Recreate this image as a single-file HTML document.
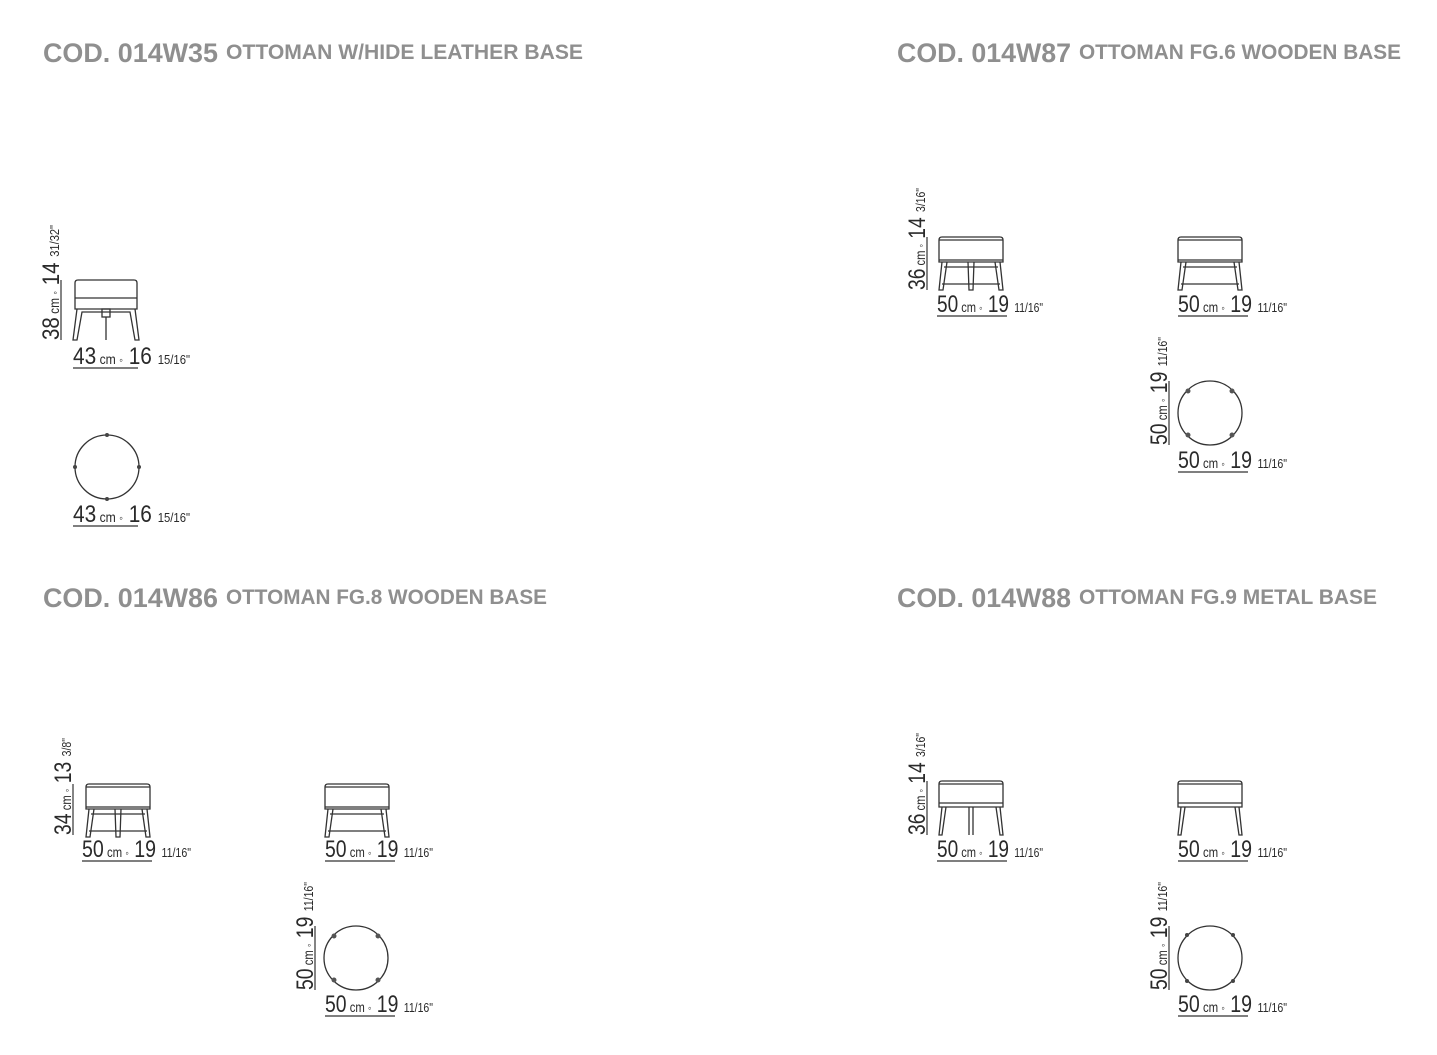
<!DOCTYPE html>
<html><head><meta charset="utf-8"><style>
html,body{margin:0;padding:0;background:#fff}
svg{display:block}
.t1{font-family:"Liberation Sans",sans-serif;font-weight:bold;fill:#8f8f8f}
.d{font-family:"Liberation Sans Narrow","Liberation Sans",sans-serif;fill:#2a2a2a}
.l{stroke:#333;fill:none;stroke-width:1.3}
.u{stroke:#333;stroke-width:1.2}
</style></head><body>
<svg width="1437" height="1055" viewBox="0 0 1437 1055" xmlns="http://www.w3.org/2000/svg">
<defs>
<g id="stool">
 <path class="l" d="M1,3 Q1,0 4,0 L62,0 Q65,0 65,3 L65,25 L1,25 Z"/>
 <line class="l" x1="1" y1="3" x2="65" y2="3"/>
 <line class="l" x1="1" y1="23" x2="65" y2="23"/>
 <path class="l" d="M4,25 L1,53 L5,53 L9,25"/>
 <path class="l" d="M62,25 L65,53 L61,53 L57,25"/>
 <line class="l" x1="6" y1="30" x2="60" y2="30"/>
 <line class="l" x1="4" y1="47" x2="62" y2="47"/>
</g>
<g id="stoolA">
 <use href="#stool"/>
 <path class="l" d="M30,25 L31,53 L35,53 L36,25"/>
</g>
<g id="circ">
 <circle class="l" cx="0" cy="0" r="32"/>
 <circle cx="-22" cy="-22" r="2.5" fill="#555"/>
 <circle cx="22" cy="-22" r="2.5" fill="#555"/>
 <circle cx="-22" cy="22" r="2.5" fill="#555"/>
 <circle cx="22" cy="22" r="2.5" fill="#555"/>
</g>
</defs>

<!-- titles -->
<text class="t1" x="43" y="62" font-size="27" textLength="175" lengthAdjust="spacingAndGlyphs">COD. 014W35</text>
<text class="t1" x="226" y="59" font-size="21" textLength="357" lengthAdjust="spacingAndGlyphs">OTTOMAN W/HIDE LEATHER BASE</text>
<text class="t1" x="897" y="62" font-size="27" textLength="174" lengthAdjust="spacingAndGlyphs">COD. 014W87</text>
<text class="t1" x="1079" y="59" font-size="21" textLength="322" lengthAdjust="spacingAndGlyphs">OTTOMAN FG.6 WOODEN BASE</text>
<text class="t1" x="43" y="607" font-size="27" textLength="175" lengthAdjust="spacingAndGlyphs">COD. 014W86</text>
<text class="t1" x="226" y="604" font-size="21" textLength="321" lengthAdjust="spacingAndGlyphs">OTTOMAN FG.8 WOODEN BASE</text>
<text class="t1" x="897" y="607" font-size="27" textLength="174" lengthAdjust="spacingAndGlyphs">COD. 014W88</text>
<text class="t1" x="1079" y="604" font-size="21" textLength="298" lengthAdjust="spacingAndGlyphs">OTTOMAN FG.9 METAL BASE</text>

<!-- Panel 1 -->
<path class="l" d="M75,283 Q75,280 78,280 L134,280 Q137,280 137,283 L137,309 L75,309 Z"/>
<line class="l" x1="75" y1="298" x2="137" y2="298"/>
<path class="l" d="M77,309 L73,340 L77,340 L82,312 L130,312 L135,340 L139,340 L135,309"/>
<rect class="l" x="102" y="309" width="8" height="8"/>
<line class="l" x1="106" y1="317" x2="106" y2="340"/>
<text class="d" x="73" y="364" textLength="117" lengthAdjust="spacingAndGlyphs"><tspan font-size="24">43</tspan><tspan font-size="14"> cm </tspan><tspan font-size="12">◦</tspan><tspan font-size="24"> 16 </tspan><tspan font-size="13">15/16"</tspan></text>
<line class="u" x1="73" y1="368" x2="138" y2="368"/>
<text class="d" transform="translate(59,340) rotate(-90)" textLength="115" lengthAdjust="spacingAndGlyphs"><tspan font-size="24">38</tspan><tspan font-size="14"> cm </tspan><tspan font-size="12">◦</tspan><tspan font-size="24"> 14 </tspan><tspan font-size="13">31/32"</tspan></text>
<line class="u" x1="61" y1="280" x2="61" y2="340"/>
<circle class="l" cx="107" cy="467" r="32"/>
<circle cx="107" cy="435" r="2" fill="#444"/><circle cx="107" cy="499" r="2" fill="#444"/>
<circle cx="75" cy="467" r="2" fill="#444"/><circle cx="139" cy="467" r="2" fill="#444"/>
<text class="d" x="73" y="522" textLength="117" lengthAdjust="spacingAndGlyphs"><tspan font-size="24">43</tspan><tspan font-size="14"> cm </tspan><tspan font-size="12">◦</tspan><tspan font-size="24"> 16 </tspan><tspan font-size="13">15/16"</tspan></text>
<line class="u" x1="73" y1="526" x2="138" y2="526"/>

<!-- Panel 2 -->
<use href="#stoolA" x="938" y="237"/>
<text class="d" x="937" y="312" textLength="106" lengthAdjust="spacingAndGlyphs"><tspan font-size="24">50</tspan><tspan font-size="14"> cm </tspan><tspan font-size="12">◦</tspan><tspan font-size="24"> 19 </tspan><tspan font-size="13">11/16"</tspan></text>
<line class="u" x1="937" y1="316" x2="1007" y2="316"/>
<text class="d" transform="translate(925,290) rotate(-90)" textLength="102" lengthAdjust="spacingAndGlyphs"><tspan font-size="24">36</tspan><tspan font-size="14"> cm </tspan><tspan font-size="12">◦</tspan><tspan font-size="24"> 14 </tspan><tspan font-size="13">3/16"</tspan></text>
<line class="u" x1="927" y1="237" x2="927" y2="290"/>
<use href="#stool" x="1177" y="237"/>
<text class="d" x="1178" y="312" textLength="109" lengthAdjust="spacingAndGlyphs"><tspan font-size="24">50</tspan><tspan font-size="14"> cm </tspan><tspan font-size="12">◦</tspan><tspan font-size="24"> 19 </tspan><tspan font-size="13">11/16"</tspan></text>
<line class="u" x1="1178" y1="316" x2="1248" y2="316"/>
<use href="#circ" x="1210" y="413"/>
<text class="d" transform="translate(1167,445) rotate(-90)" textLength="108" lengthAdjust="spacingAndGlyphs"><tspan font-size="24">50</tspan><tspan font-size="14"> cm </tspan><tspan font-size="12">◦</tspan><tspan font-size="24"> 19 </tspan><tspan font-size="13">11/16"</tspan></text>
<line class="u" x1="1169" y1="381" x2="1169" y2="445"/>
<text class="d" x="1178" y="468" textLength="109" lengthAdjust="spacingAndGlyphs"><tspan font-size="24">50</tspan><tspan font-size="14"> cm </tspan><tspan font-size="12">◦</tspan><tspan font-size="24"> 19 </tspan><tspan font-size="13">11/16"</tspan></text>
<line class="u" x1="1178" y1="472" x2="1248" y2="472"/>

<!-- Panel 3 -->
<use href="#stoolA" x="85" y="784"/>
<text class="d" x="82" y="857" textLength="109" lengthAdjust="spacingAndGlyphs"><tspan font-size="24">50</tspan><tspan font-size="14"> cm </tspan><tspan font-size="12">◦</tspan><tspan font-size="24"> 19 </tspan><tspan font-size="13">11/16"</tspan></text>
<line class="u" x1="82" y1="861" x2="152" y2="861"/>
<text class="d" transform="translate(71,835) rotate(-90)" textLength="97" lengthAdjust="spacingAndGlyphs"><tspan font-size="24">34</tspan><tspan font-size="14"> cm </tspan><tspan font-size="12">◦</tspan><tspan font-size="24"> 13 </tspan><tspan font-size="13">3/8"</tspan></text>
<line class="u" x1="73" y1="784" x2="73" y2="835"/>
<use href="#stool" x="324" y="784"/>
<text class="d" x="325" y="857" textLength="108" lengthAdjust="spacingAndGlyphs"><tspan font-size="24">50</tspan><tspan font-size="14"> cm </tspan><tspan font-size="12">◦</tspan><tspan font-size="24"> 19 </tspan><tspan font-size="13">11/16"</tspan></text>
<line class="u" x1="325" y1="861" x2="395" y2="861"/>
<use href="#circ" x="356" y="958"/>
<text class="d" transform="translate(313,990) rotate(-90)" textLength="108" lengthAdjust="spacingAndGlyphs"><tspan font-size="24">50</tspan><tspan font-size="14"> cm </tspan><tspan font-size="12">◦</tspan><tspan font-size="24"> 19 </tspan><tspan font-size="13">11/16"</tspan></text>
<line class="u" x1="315" y1="926" x2="315" y2="990"/>
<text class="d" x="325" y="1012" textLength="108" lengthAdjust="spacingAndGlyphs"><tspan font-size="24">50</tspan><tspan font-size="14"> cm </tspan><tspan font-size="12">◦</tspan><tspan font-size="24"> 19 </tspan><tspan font-size="13">11/16"</tspan></text>
<line class="u" x1="325" y1="1016" x2="395" y2="1016"/>

<!-- Panel 4 -->
<g transform="translate(938,781)">
 <path class="l" d="M1,3 Q1,0 4,0 L62,0 Q65,0 65,3 L65,26 L1,26 Z"/>
 <line class="l" x1="1" y1="3" x2="65" y2="3"/>
 <line class="l" x1="1" y1="22" x2="65" y2="22"/>
 <path class="l" d="M4,26 L1,54 L4,54 L8,26"/>
 <path class="l" d="M62,26 L65,54 L62,54 L58,26"/>
 <line class="l" x1="31" y1="26" x2="31" y2="54"/><line class="l" x1="35" y1="26" x2="35" y2="54"/>
</g>
<text class="d" x="937" y="857" textLength="106" lengthAdjust="spacingAndGlyphs"><tspan font-size="24">50</tspan><tspan font-size="14"> cm </tspan><tspan font-size="12">◦</tspan><tspan font-size="24"> 19 </tspan><tspan font-size="13">11/16"</tspan></text>
<line class="u" x1="937" y1="861" x2="1007" y2="861"/>
<text class="d" transform="translate(925,835) rotate(-90)" textLength="102" lengthAdjust="spacingAndGlyphs"><tspan font-size="24">36</tspan><tspan font-size="14"> cm </tspan><tspan font-size="12">◦</tspan><tspan font-size="24"> 14 </tspan><tspan font-size="13">3/16"</tspan></text>
<line class="u" x1="927" y1="781" x2="927" y2="835"/>
<g transform="translate(1177,781)">
 <path class="l" d="M1,3 Q1,0 4,0 L62,0 Q65,0 65,3 L65,26 L1,26 Z"/>
 <line class="l" x1="1" y1="3" x2="65" y2="3"/>
 <line class="l" x1="1" y1="22" x2="65" y2="22"/>
 <path class="l" d="M4,26 L1,54 L4,54 L8,26"/>
 <path class="l" d="M62,26 L65,54 L62,54 L58,26"/>
</g>
<text class="d" x="1178" y="857" textLength="109" lengthAdjust="spacingAndGlyphs"><tspan font-size="24">50</tspan><tspan font-size="14"> cm </tspan><tspan font-size="12">◦</tspan><tspan font-size="24"> 19 </tspan><tspan font-size="13">11/16"</tspan></text>
<line class="u" x1="1178" y1="861" x2="1248" y2="861"/>
<circle class="l" cx="1210" cy="958" r="32"/>
<circle cx="1187" cy="935" r="2" fill="#444"/><circle cx="1233" cy="935" r="2" fill="#444"/>
<circle cx="1187" cy="981" r="2" fill="#444"/><circle cx="1233" cy="981" r="2" fill="#444"/>
<text class="d" transform="translate(1167,990) rotate(-90)" textLength="108" lengthAdjust="spacingAndGlyphs"><tspan font-size="24">50</tspan><tspan font-size="14"> cm </tspan><tspan font-size="12">◦</tspan><tspan font-size="24"> 19 </tspan><tspan font-size="13">11/16"</tspan></text>
<line class="u" x1="1169" y1="926" x2="1169" y2="990"/>
<text class="d" x="1178" y="1012" textLength="109" lengthAdjust="spacingAndGlyphs"><tspan font-size="24">50</tspan><tspan font-size="14"> cm </tspan><tspan font-size="12">◦</tspan><tspan font-size="24"> 19 </tspan><tspan font-size="13">11/16"</tspan></text>
<line class="u" x1="1178" y1="1016" x2="1248" y2="1016"/>
</svg>
</body></html>
